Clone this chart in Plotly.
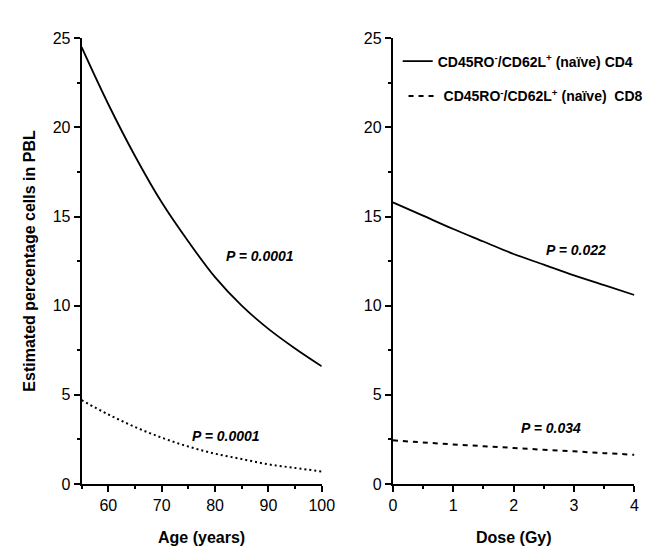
import plotly.graph_objects as go

# Left panel: age (years)
age = [55, 60, 65, 70, 75, 80, 85, 90, 95, 100]
age_cd4 = [24.5, 21.3, 18.4, 15.8, 13.6, 11.6, 10.0, 8.7, 7.6, 6.6]
age_cd8 = [4.7, 3.9, 3.2, 2.6, 2.1, 1.7, 1.4, 1.1, 0.9, 0.7]

# Right panel: dose (Gy)
dose = [0, 0.5, 1, 1.5, 2, 2.5, 3, 3.5, 4]
dose_cd4 = [15.8, 15.05, 14.3, 13.6, 12.9, 12.3, 11.7, 11.15, 10.6]
dose_cd8 = [2.45, 2.33, 2.22, 2.12, 2.02, 1.92, 1.83, 1.73, 1.64]

series_names = ["CD45RO<sup>-</sup>/CD62L<sup>+</sup> (naïve) CD4",
                "CD45RO<sup>-</sup>/CD62L<sup>+</sup> (naïve)  CD8"]
p_labels = ["<i>P = 0.0001</i>", "<i>P = 0.0001</i>", "<i>P = 0.022</i>", "<i>P = 0.034</i>"]
p_pos = [(88.4, 12.8), (82.0, 2.7), (3.04, 13.1), (2.62, 3.15)]

W, H = 654, 547
FONT = "Liberation Sans, Arial, sans-serif"

fig = go.Figure()
fig.add_trace(go.Scatter(x=age, y=age_cd4, mode="lines", line=dict(color="black", width=1.8, shape="spline"),
                         xaxis="x", yaxis="y", showlegend=False))
fig.add_trace(go.Scatter(x=age, y=age_cd8, mode="lines", line=dict(color="black", width=2, dash="2px,3px", shape="spline"),
                         xaxis="x", yaxis="y", showlegend=False))
fig.add_trace(go.Scatter(x=dose, y=dose_cd4, mode="lines", name=series_names[0],
                         line=dict(color="black", width=1.8, shape="spline"),
                         xaxis="x2", yaxis="y2", legend="legend"))
fig.add_trace(go.Scatter(x=dose, y=dose_cd8, mode="lines", name=series_names[1],
                         line=dict(color="black", width=2, dash="5px,5px", shape="spline"),
                         xaxis="x2", yaxis="y2", legend="legend2"))

def px_x(p):
    return p / W

def px_y(p):
    return 1 - p / H

ydom = [px_y(483), px_y(23)]
axis_common = dict(showline=True, linecolor="black", linewidth=2, ticks="outside", ticklen=6,
                   tickwidth=1.5, tickcolor="black", showgrid=False, zeroline=False,
                   tickfont=dict(family=FONT, size=16, color="black"))
minor_common = dict(ticks="outside", ticklen=3, tickwidth=1.5, tickcolor="black")
legend_font = dict(family=FONT, size=14, color="black", weight="bold")

fig.update_layout(
    width=W, height=H,
    margin=dict(l=0, r=0, t=0, b=0),
    paper_bgcolor="white", plot_bgcolor="white",
    xaxis=dict(domain=[px_x(71.5), px_x(318)], range=[55, 100], tickvals=[60, 70, 80, 90, 100],
               minor=dict(dtick=5, tick0=55, **minor_common), anchor="y", **axis_common),
    yaxis=dict(domain=ydom, range=[0, 25], tickvals=[0, 5, 10, 15, 20, 25],
               minor=dict(dtick=2.5, tick0=0, **minor_common), anchor="x", **axis_common),
    xaxis2=dict(domain=[px_x(391), px_x(639)], range=[0, 4], tickvals=[0, 1, 2, 3, 4],
                minor=dict(dtick=0.5, tick0=0, **minor_common), anchor="y2", **axis_common),
    yaxis2=dict(domain=ydom, range=[0, 25], tickvals=[0, 5, 10, 15, 20, 25],
                minor=dict(dtick=2.5, tick0=0, **minor_common), anchor="x2", **axis_common),
    legend=dict(x=px_x(396), y=px_y(47), xanchor="left", yanchor="middle", itemwidth=30,
                bgcolor="rgba(0,0,0,0)", font=legend_font),
    legend2=dict(x=px_x(402), y=px_y(83), xanchor="left", yanchor="middle", itemwidth=30,
                 bgcolor="rgba(0,0,0,0)", font=legend_font),
)

ann_font = dict(family=FONT, size=14, color="black", weight="bold")
refs = [("x", "y"), ("x", "y"), ("x2", "y2"), ("x2", "y2")]
for (xv, yv), txt, (xr, yr) in zip(p_pos, p_labels, refs):
    fig.add_annotation(x=xv, y=yv, xref=xr, yref=yr, text=txt, showarrow=False, font=ann_font,
                       xanchor="center", yanchor="middle")

title_font = dict(family=FONT, size=16, color="black", weight="bold")
fig.add_annotation(x=px_x(195), y=px_y(538), xref="paper", yref="paper", text="Age (years)",
                   showarrow=False, font=title_font, xanchor="center", yanchor="middle")
fig.add_annotation(x=px_x(515), y=px_y(538), xref="paper", yref="paper", text="Dose (Gy)",
                   showarrow=False, font=title_font, xanchor="center", yanchor="middle")
fig.add_annotation(x=px_x(18), y=px_y(253), xref="paper", yref="paper", text="Estimated percentage cells in PBL",
                   textangle=-90, showarrow=False, font=title_font, xanchor="center", yanchor="middle")

fig.write_html("out.html")
